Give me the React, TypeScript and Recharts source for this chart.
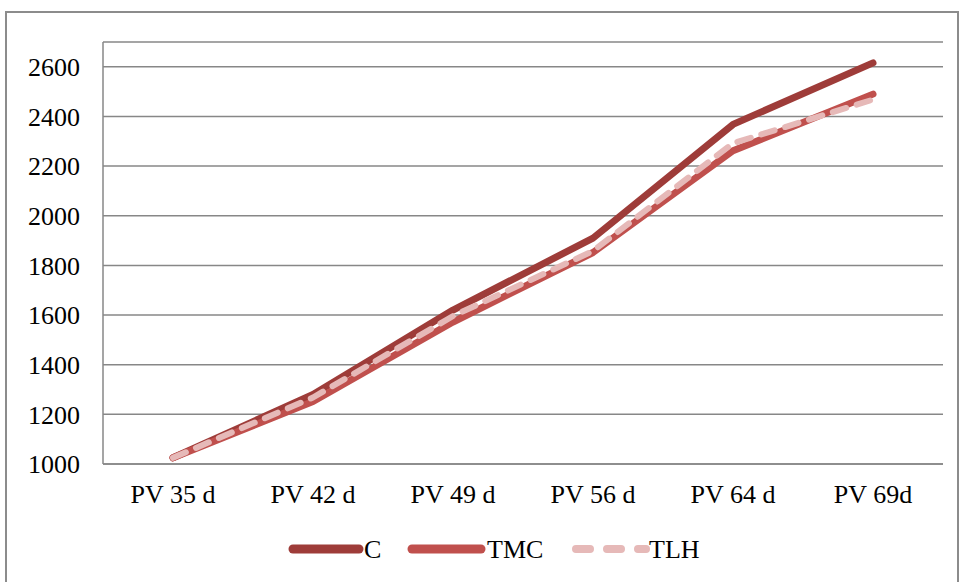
import { LineChart, Line, XAxis, YAxis, CartesianGrid } from "recharts";

// growth readings per sampling day
const categories = ["PV 35 d", "PV 42 d", "PV 49 d", "PV 56 d", "PV 64 d", "PV 69d"];
const seriesC = [1025, 1280, 1620, 1910, 2368, 2616];
const seriesTMC = [1025, 1252, 1572, 1852, 2262, 2490];
const seriesTLH = [1025, 1268, 1596, 1858, 2292, 2468];
const yTicks = [1000, 1200, 1400, 1600, 1800, 2000, 2200, 2400, 2600];

const COLORS = { C: "#9E3C39", TMC: "#C0504D", TLH: "#E6B9B8" };
const GRID = "#878787";
const FONT = "'Liberation Serif', 'Times New Roman', serif";

const data = categories.map((name, i) => ({
  name,
  C: seriesC[i],
  TMC: seriesTMC[i],
  TLH: seriesTLH[i],
}));

function LegendBox() {
  return (
    <div style={{ position: "absolute", left: 0, top: 530, width: 959, height: 36 }}>
      <svg width={959} height={36} style={{ position: "absolute", left: 0, top: 0 }}>
        <line x1={293} y1={19} x2={359} y2={19} stroke={COLORS.C} strokeWidth={9} strokeLinecap="round" />
        <text x={364} y={28} fontFamily={FONT} fontSize={26}>C</text>
        <line x1={412} y1={19} x2={481} y2={19} stroke={COLORS.TMC} strokeWidth={9} strokeLinecap="round" />
        <text x={487} y={28} fontFamily={FONT} fontSize={26}>TMC</text>
        <line x1={576} y1={19} x2={646} y2={19} stroke={COLORS.TLH} strokeWidth={8} strokeLinecap="round" strokeDasharray="14 17" />
        <text x={649} y={28} fontFamily={FONT} fontSize={26}>TLH</text>
      </svg>
    </div>
  );
}

export default function App() {
  return (
    <div style={{ position: "absolute", left: 0, top: 0, width: 959, height: 582, overflow: "hidden", background: "#fff" }}>
      <div
        style={{
          position: "absolute",
          left: 5,
          top: 11,
          width: 950,
          height: 620,
          border: "2px solid #8c8c8c",
        }}
      />
      <LineChart
        width={959}
        height={582}
        data={data}
        margin={{ top: 42, right: 16, left: 0, bottom: 0 }}
        style={{ position: "absolute", left: 0, top: 0 }}
      >
        <CartesianGrid vertical={false} stroke={GRID} strokeWidth={1.5} />
        <XAxis
          dataKey="name"
          height={118}
          padding={{ left: 70, right: 70 }}
          tickLine={false}
          axisLine={{ stroke: GRID, strokeWidth: 1.5 }}
          tickMargin={15}
          tick={{ fontSize: 26, fill: "#000", fontFamily: FONT }}
        />
        <YAxis
          width={103}
          domain={[1000, 2700]}
          ticks={yTicks}
          tickLine={false}
          tickMargin={17}
          axisLine={{ stroke: GRID, strokeWidth: 1.5 }}
          tick={{ fontSize: 26, fill: "#000", fontFamily: FONT }}
        />
        <Line type="linear" dataKey="C" stroke={COLORS.C} strokeWidth={7} dot={false} strokeLinecap="round" strokeLinejoin="round" isAnimationActive={false} />
        <Line type="linear" dataKey="TMC" stroke={COLORS.TMC} strokeWidth={7} dot={false} strokeLinecap="round" strokeLinejoin="round" isAnimationActive={false} />
        <Line type="linear" dataKey="TLH" stroke={COLORS.TLH} strokeWidth={6} dot={false} strokeLinecap="round" strokeLinejoin="round" strokeDasharray="14 11" isAnimationActive={false} />
      </LineChart>
      <LegendBox />
    </div>
  );
}
